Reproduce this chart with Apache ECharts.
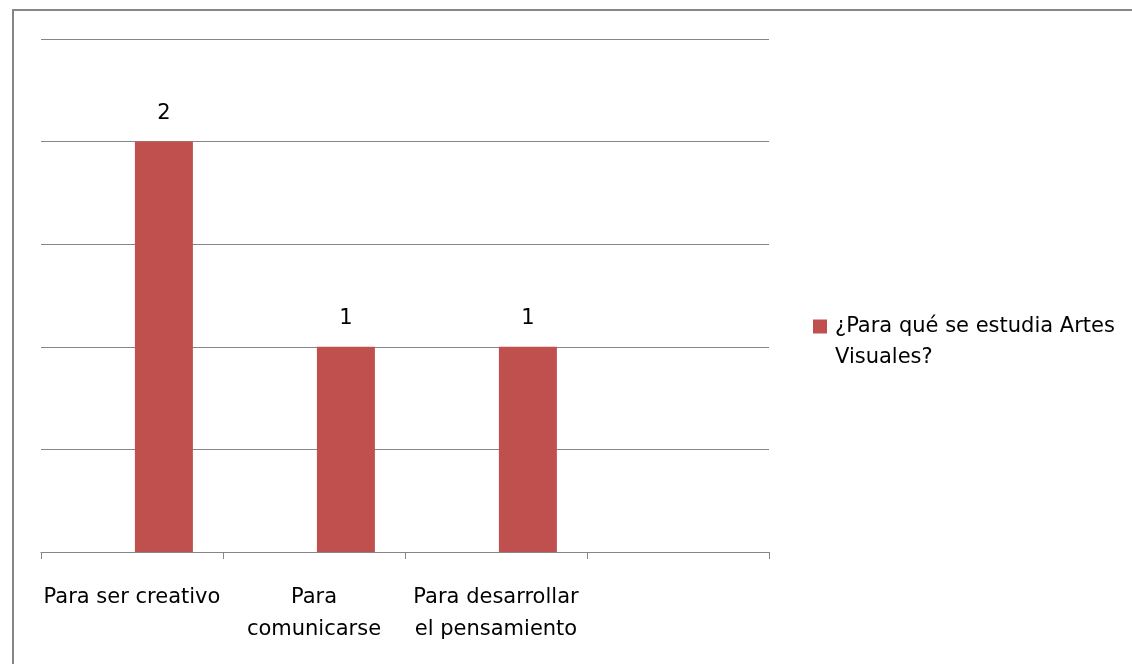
<!DOCTYPE html>
<html>
<head>
<meta charset="utf-8">
<script src="https://cdn.jsdelivr.net/npm/echarts@6/dist/echarts.min.js"></script>
<style>
  html, body { margin: 0; padding: 0; overflow: hidden; background: #fff; }
  #frame { position: absolute; left: 12px; top: 9px; width: 1300px; height: 800px;
           border-left: 2px solid #868686; border-top: 2px solid #868686; }
  #chart { position: absolute; left: 0; top: 0; width: 1132px; height: 664px; }
</style>
</head>
<body>
<div id="frame"></div>
<div id="chart"></div>
<script>
// categories (the last one is empty in the original sheet)
const categories = ['Para ser creativo', 'Para\ncomunicarse', 'Para desarrollar\nel pensamiento', '']
const seriesName = '¿Para qué se estudia Artes Visuales?'
const values = [2, 1, 1, null]
// empty companion series, only keeps the bars shifted right like the original
const emptyValues = [null, null, null, null]

const font = '"DejaVu Sans", sans-serif'

const chart = echarts.init(document.getElementById('chart'), null, { renderer: 'canvas' })

const option = {
	animation: false,
	grid: {
		left: 41,
		right: 363,
		top: 39,
		bottom: 112,
		containLabel: false
	},
	legend: {
		data: [seriesName],
		left: 813,
		top: 280,
		padding: 0,
		itemWidth: 14,
		itemHeight: 14,
		icon: 'rect',
		// leading empty line puts the marker beside the first text line
		formatter: () => '\n¿Para qué se estudia Artes\nVisuales?',
		textStyle: {
			fontFamily: font,
			fontSize: 21,
			lineHeight: 31,
			color: '#000',
			padding: [0, 0, 0, 3]
		}
	},
	xAxis: {
		type: 'category',
		data: categories,
		axisLine: { lineStyle: { color: '#868686', width: 1 } },
		axisTick: { show: true, length: 7, lineStyle: { color: '#868686' } },
		axisLabel: {
			interval: 0,
			margin: 30,
			fontFamily: font,
			fontSize: 21,
			lineHeight: 32,
			color: '#000'
		}
	},
	yAxis: {
		type: 'value',
		min: 0,
		max: 2.5,
		interval: 0.5,
		axisLine: { show: false },
		axisTick: { show: false },
		axisLabel: { show: false },
		splitLine: { lineStyle: { color: '#868686', width: 1 } }
	},
	series: [
		{
			name: 'vacío',
			type: 'bar',
			data: emptyValues,
			barWidth: 58,
			barGap: '10%'
		},
		{
			name: seriesName,
			type: 'bar',
			data: values,
			barWidth: 58,
			barGap: '10%',
			itemStyle: { color: '#C0504D' },
			label: {
				show: true,
				position: 'top',
				distance: 18,
				fontFamily: font,
				fontSize: 21,
				color: '#000'
			}
		}
	]
}

chart.setOption(option)
</script>
</body>
</html>
